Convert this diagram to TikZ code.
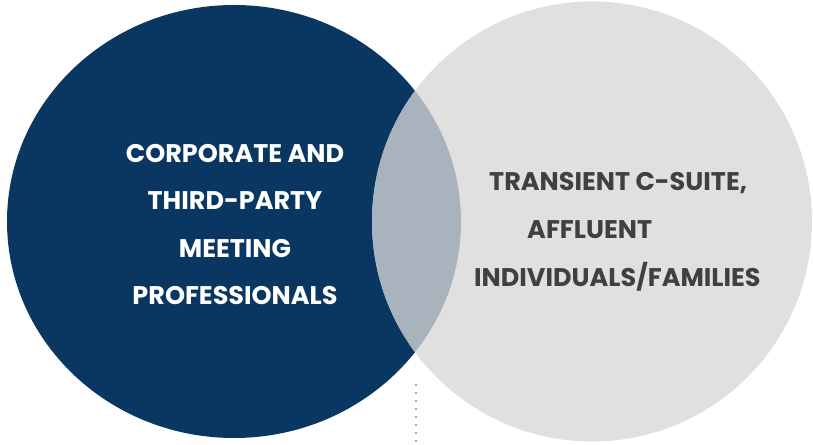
\documentclass[tikz,border=0pt]{standalone}
\usepackage{fontspec}
\setmainfont{Poppins}
\definecolor{navy}{HTML}{0A3762}
\definecolor{lightgrey}{HTML}{E0E0E0}
\definecolor{overlap}{HTML}{A9B3BE}
\definecolor{darktext}{HTML}{404040}
\definecolor{dotgrey}{HTML}{A8A8A8}
\begin{document}
\begin{tikzpicture}[x=1pt,y=1pt,
  lbl/.style={font=\fontsize{25.5}{28}\selectfont\bfseries, inner sep=0pt},
  leftlbl/.style={lbl, text=white, anchor=base},
  rightlbl/.style={lbl, text=darktext, anchor=base west}]
  \useasboundingbox (0,0) rectangle (813,444);
  % the two sets
  \fill[navy] (234,222.5) ellipse [x radius=227, y radius=216.5];
  \fill[lightgrey] (592,222.5) circle [radius=220];
  % their common part
  \begin{scope}
    \clip (234,222.5) ellipse [x radius=227, y radius=216.5];
    \fill[overlap] (592,222.5) circle [radius=220];
  \end{scope}
  % dotted guide below the lower crossing point
  \coordinate (gtop) at (416,60);
  \coordinate (gbot) at (416,0);
  \draw[dotgrey, line width=1.6pt, dash pattern=on 1.6pt off 6.4pt] (gtop) -- (gbot);
  % left set labels
  \node[leftlbl] (l1) at (235,281) {CORPORATE AND};
  \node[leftlbl] (l2) at (235,234) {THIRD-PARTY};
  \node[leftlbl] (l3) at (235,186) {MEETING};
  \node[leftlbl] (l4) at (235,139) {PROFESSIONALS};
  % right set labels
  \node[rightlbl] (r1) at (489,253) {TRANSIENT C-SUITE,};
  \node[rightlbl] (r2) at (527,205) {AFFLUENT};
  \node[rightlbl] (r3) at (474,157) {INDIVIDUALS/FAMILIES};
\end{tikzpicture}
\end{document}
